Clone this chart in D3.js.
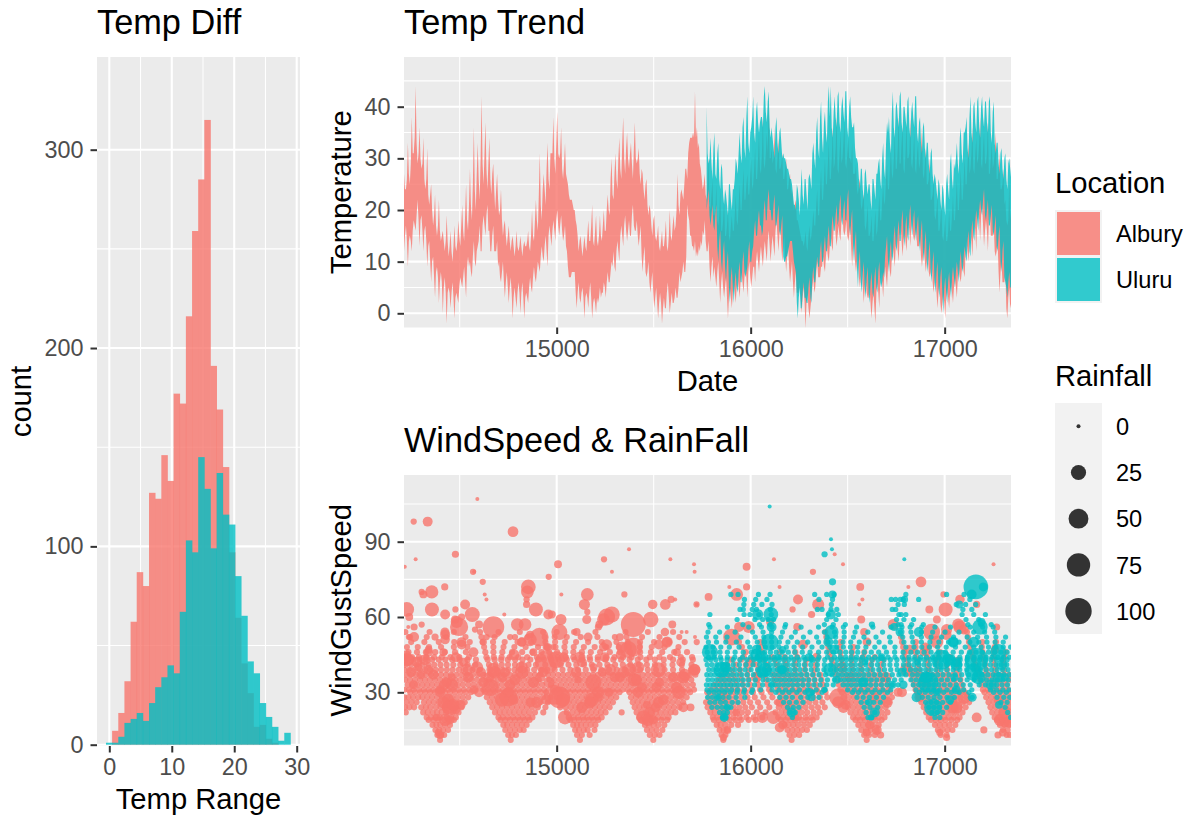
<!DOCTYPE html>
<html>
<head>
<meta charset="utf-8">
<script src="https://cdn.jsdelivr.net/npm/d3@7"></script>
<style>
  html, body { margin: 0; padding: 0; background: #fff; }
  text { font-family: "Liberation Sans", Arial, sans-serif; }
</style>
</head>
<body>
<div id="container"></div>
<script>
"use strict";

// histogram: left edge of each bin, counts per location
const binEdges = [-0.53,0.45,1.44,2.42,3.41,4.39,5.37,6.36,7.34,8.33,9.31,10.29,11.28,12.26,13.25,14.23,15.21,16.2,17.18,18.17,19.15,20.13,21.12,22.1,23.09,24.07,25.05,26.04,27.02,28.01];
const binWidth = 0.983;
const alburyCounts = [0,7,16,32,62,87,80,127,124,146,133,177,172,216,259,285,315,191,169,140,97,64,41,26,9,10,3,1,0,0];
const uluruCounts = [1,1,4,11,13,16,12,21,29,34,40,36,67,103,97,145,129,99,137,116,111,85,65,42,36,21,14,9,2,6];

// temperature ribbon, one value per listed date
const ribbonDates = [
14213,14218,14223,14228,14233,14238,14243,14248,14253,14258,14263,14268,14273,14278,14283,14288,14293,14298,14303,14308,14313,14318,14323,14328,14333,14338,14343,14348,14353,14358,14363,14368,14373,14378,14383,14388,14393,14398,14403,14408,
14413,14418,14423,14428,14433,14438,14443,14448,14453,14458,14463,14468,14473,14478,14483,14488,14493,14498,14503,14508,14513,14518,14523,14528,14533,14538,14543,14548,14553,14558,14563,14568,14573,14578,14583,14588,14593,14598,14603,14608,
14613,14618,14623,14628,14633,14638,14643,14648,14653,14658,14663,14668,14673,14678,14683,14688,14693,14698,14703,14708,14713,14718,14723,14728,14733,14738,14743,14748,14753,14758,14763,14768,14773,14778,14783,14788,14793,14798,14803,14808,
14813,14818,14823,14828,14833,14838,14843,14848,14853,14858,14863,14868,14873,14878,14883,14888,14893,14898,14903,14908,14913,14918,14923,14928,14933,14938,14943,14948,14953,14958,14963,14968,14973,14978,14983,14988,14993,14998,15003,15008,
15013,15018,15023,15028,15033,15038,15043,15048,15053,15058,15063,15068,15073,15078,15083,15088,15093,15098,15103,15108,15113,15118,15123,15128,15133,15138,15143,15148,15153,15158,15163,15168,15173,15178,15183,15188,15193,15198,15203,15208,
15213,15218,15223,15228,15233,15238,15243,15248,15253,15258,15263,15268,15273,15278,15283,15288,15293,15298,15303,15308,15313,15318,15323,15328,15333,15338,15343,15348,15353,15358,15363,15368,15373,15378,15383,15388,15393,15398,15403,15408,
15413,15418,15423,15428,15433,15438,15443,15448,15453,15458,15463,15468,15473,15478,15483,15488,15493,15498,15503,15508,15513,15518,15523,15528,15533,15538,15543,15548,15553,15558,15563,15568,15573,15578,15583,15588,15593,15598,15603,15608,
15613,15618,15623,15628,15633,15638,15643,15648,15653,15658,15663,15668,15673,15678,15683,15688,15693,15698,15703,15708,15713,15718,15723,15728,15733,15738,15743,15748,15753,15758,15763,15768,15773,15778,15783,15788,15793,15798,15803,15808,
15813,15818,15823,15828,15833,15838,15843,15848,15853,15858,15863,15868,15873,15878,15883,15888,15893,15898,15903,15908,15913,15918,15923,15928,15933,15938,15943,15948,15953,15958,15963,15968,15973,15978,15983,15988,15993,15998,16003,16008,
16013,16018,16023,16028,16033,16038,16043,16048,16053,16058,16063,16068,16073,16078,16083,16088,16093,16098,16103,16108,16113,16118,16123,16128,16133,16138,16143,16148,16153,16158,16163,16168,16173,16178,16183,16188,16193,16198,16203,16208,
16213,16218,16223,16228,16233,16238,16243,16248,16253,16258,16263,16268,16273,16278,16283,16288,16293,16298,16303,16308,16313,16318,16323,16328,16333,16338,16343,16348,16353,16358,16363,16368,16373,16378,16383,16388,16393,16398,16403,16408,
16413,16418,16423,16428,16433,16438,16443,16448,16453,16458,16463,16468,16473,16478,16483,16488,16493,16498,16503,16508,16513,16518,16523,16528,16533,16538,16543,16548,16553,16558,16563,16568,16573,16578,16583,16588,16593,16598,16603,16608,
16613,16618,16623,16628,16633,16638,16643,16648,16653,16658,16663,16668,16673,16678,16683,16688,16693,16698,16703,16708,16713,16718,16723,16728,16733,16738,16743,16748,16753,16758,16763,16768,16773,16778,16783,16788,16793,16798,16803,16808,
16813,16818,16823,16828,16833,16838,16843,16848,16853,16858,16863,16868,16873,16878,16883,16888,16893,16898,16903,16908,16913,16918,16923,16928,16933,16938,16943,16948,16953,16958,16963,16968,16973,16978,16983,16988,16993,16998,17003,17008,
17013,17018,17023,17028,17033,17038,17043,17048,17053,17058,17063,17068,17073,17078,17083,17088,17093,17098,17103,17108,17113,17118,17123,17128,17133,17138,17143,17148,17153,17158,17163,17168,17173,17178,17183,17188,17193,17198,17203,17208,
17213,17218,17223,17228,17233,17238,17243,17248,17253,17258,17263,17268,17273,17278,17283,17288,17293,17298,17303,17308,17313,17318,17323,17328,17333,17338,17343];
const alburyHigh = [
27,24,24,26,33,27,25,29,38,31,31,34,44,33,29,31,36,30,28,29,34,26,24,26,32,23,21,23,25,20,17,19,23,17,15,17,22,16,14,15,
16,14,12,14,19,14,11,13,16,12,10,13,17,13,12,14,18,15,13,17,21,16,14,19,25,18,16,21,28,21,18,25,36,24,20,27,33,26,22,30,
42,29,25,31,37,28,24,29,34,26,23,27,29,24,20,24,27,22,19,20,24,18,15,17,18,15,13,15,17,14,12,14,15,13,11,13,16,13,12,13,
15,13,11,13,14,13,13,14,16,13,12,15,20,15,14,18,22,18,16,23,31,21,18,24,27,24,21,28,33,26,24,31,31,31,38,30,27,33,39,31,
30,31,36,28,26,29,33,27,26,25,23,22,22,22,21,20,20,18,17,15,12,14,15,13,11,13,15,13,12,15,18,14,14,17,21,14,13,16,19,14,
13,15,19,15,14,17,20,16,16,20,23,20,19,26,30,23,22,27,31,26,24,30,34,28,26,33,38,30,27,32,35,30,28,31,33,29,26,32,37,30,
29,30,32,27,25,28,27,24,22,25,26,21,19,21,20,17,15,18,19,15,14,15,17,13,12,14,16,13,13,15,18,13,12,15,20,15,14,17,19,16,
17,20,27,21,19,23,24,23,22,25,28,28,26,31,33,34,34,34,35,34,43,34,36,32,33,29,28,26,24,25,27,23,22,25,30,21,20,23,26,19,
19,20,25,18,17,19,24,16,16,18,22,15,15,17,20,15,14,17,19,16,16,19,23,18,17,21,25,20,20,24,28,22,22,25,27,23,23,27,30,24,
25,28,32,26,26,30,35,28,27,31,38,29,28,31,35,31,42,30,30,32,29,30,36,28,27,30,34,28,28,29,31,26,26,28,30,24,24,26,27,23,
24,22,20,21,22,18,18,17,16,15,14,14,13,14,16,13,12,15,17,14,15,17,20,17,17,21,24,19,19,24,28,22,22,26,30,25,25,29,33,26,
26,30,36,28,29,32,38,28,27,31,35,29,30,33,37,29,28,31,34,30,30,29,33,27,27,27,29,24,23,25,26,21,20,22,23,17,16,18,21,15,
15,16,19,14,14,17,20,15,16,19,23,18,18,22,25,21,22,26,29,24,24,28,32,27,26,30,35,28,28,32,38,29,29,33,36,28,27,31,37,30,
30,31,38,29,28,31,35,28,27,31,33,28,29,32,36,27,26,29,32,25,25,26,30,22,22,23,26,19,18,20,23,16,16,18,21,15,14,16,19,14,
14,16,20,16,16,19,23,18,18,22,26,20,20,24,28,22,22,26,30,25,25,29,33,27,28,31,36,28,27,31,34,29,30,33,38,29,28,32,35,29,
29,31,37,27,27,30,33,28,29,31,35,26,26,28,31,24,24,25,28,21,22,18,17,18,26,18,20];
const alburyLow = [
12,15,17,14,9,14,15,14,12,16,18,17,16,19,22,18,13,18,19,16,12,16,17,14,9,13,14,10,6,10,11,7,3,8,9,7,2,6,8,6,
0,5,7,4,-2,4,5,4,1,4,6,3,-1,3,4,3,2,5,7,6,5,7,9,6,3,9,11,9,10,8,7,11,14,10,9,12,13,14,17,12,
12,17,19,17,15,19,21,16,16,12,12,15,17,12,12,12,14,9,10,7,6,8,10,6,3,6,8,5,2,5,7,4,-1,3,5,3,1,4,6,4,
0,4,6,3,-1,3,4,3,2,5,7,5,4,7,9,7,6,8,10,9,8,11,13,11,10,13,15,12,9,15,17,15,13,16,18,16,14,18,20,17,
15,17,19,16,14,15,17,13,12,9,7,7,7,8,8,8,8,4,1,4,6,3,2,4,5,3,-1,3,4,3,1,4,6,3,-1,2,3,2,0,3,
2,3,5,3,4,4,6,5,3,6,8,6,6,8,10,9,12,9,8,12,14,12,10,15,17,15,13,17,19,16,14,16,18,15,15,19,21,17,16,16,
18,15,13,15,17,11,8,11,13,8,7,8,10,6,4,6,8,4,1,3,5,2,-1,2,4,2,-2,1,3,1,1,4,6,3,0,2,4,2,2,3,
5,3,3,5,8,6,7,8,10,8,8,11,21,19,18,15,15,13,13,12,14,11,12,11,13,12,14,13,16,15,18,14,12,12,14,9,6,9,11,7,
9,7,5,8,10,6,2,6,8,5,3,5,7,3,-1,3,5,3,1,4,6,4,2,5,7,5,3,6,8,6,4,7,9,7,3,8,10,7,5,7,
9,9,6,10,12,10,8,11,13,11,9,12,14,12,10,14,16,13,10,13,15,13,11,16,18,15,12,15,17,13,10,13,15,11,8,11,13,9,6,8,
10,6,3,6,8,4,4,4,6,3,0,3,5,2,-3,2,4,1,-1,1,3,5,7,4,5,8,10,7,7,7,9,9,11,9,8,11,13,11,10,13,
15,13,12,17,19,15,13,15,17,15,14,18,20,16,15,16,18,15,14,15,17,13,9,13,15,10,8,10,12,7,5,7,9,5,2,5,7,4,3,3,
5,2,-1,2,4,1,-2,4,6,4,1,6,8,6,3,7,9,7,5,9,11,8,7,11,13,11,9,13,15,12,10,15,17,14,11,14,16,14,12,15,
18,16,13,17,19,15,14,15,17,13,13,13,15,11,9,11,13,10,8,10,12,8,7,8,10,6,4,6,8,4,1,4,6,2,0,2,4,2,-1,3,
5,3,1,4,6,4,2,5,7,5,3,7,9,7,6,8,10,8,7,12,14,12,10,14,16,14,11,16,18,16,12,18,20,18,14,19,21,17,13,16,
18,16,12,18,20,15,15,15,17,12,11,12,14,8,4,8,10,6,6,6,8,1,-1,3,5,1,2];
const uluruStart = 15773;
const uluruHigh = [
40,31,29,30,34,29,26,32,35,27,26,31,33,26,24,29,28,23,21,24,23,21,19,25,25,22,20,24,24,26,30,29,27,31,35,31,29,36,38,32,
30,38,42,33,31,35,36,38,42,35,33,39,41,37,35,37,38,38,36,42,44,39,37,41,43,36,34,36,34,32,30,36,38,33,31,35,36,33,30,31,
30,30,29,28,28,27,26,26,25,23,21,21,20,25,24,22,19,24,28,23,21,26,26,23,20,26,27,26,24,31,33,30,28,35,38,32,30,38,41,34,
31,37,39,35,33,41,44,38,44,36,34,39,42,38,36,42,43,37,35,40,42,39,37,43,43,36,34,40,42,38,36,36,37,32,30,30,29,26,24,28,
28,24,22,27,28,25,23,25,25,22,20,26,26,24,22,27,27,29,30,26,24,30,33,28,26,33,37,35,38,33,31,39,43,36,34,40,41,38,36,42,
43,37,35,40,40,38,36,41,42,36,34,39,41,38,36,42,42,35,33,37,38,33,31,36,37,32,30,33,33,29,27,31,32,27,25,27,26,24,22,26,
25,22,20,25,24,21,19,25,27,24,22,29,31,26,24,29,28,30,33,29,27,34,36,31,29,35,35,36,38,32,30,38,42,35,33,40,41,37,35,41,
42,36,34,40,42,38,36,41,41,37,35,41,42,35,33,39,41,33,31,33,33,29,27,31,32,28,26,30,31,26,24,29,30,28,26];
const uluruLow = [
20,22,24,19,17,19,21,17,16,19,21,13,10,14,16,10,8,12,14,9,6,10,12,5,2,7,9,5,2,6,8,5,4,8,10,6,6,10,12,8,
7,8,9,12,14,10,10,12,13,16,18,15,15,18,20,17,17,15,16,20,22,18,18,22,24,20,20,18,18,21,23,17,17,19,21,16,15,17,19,11,
10,10,11,11,12,13,14,14,14,12,10,9,8,2,-1,3,5,1,1,4,6,3,3,2,2,5,7,3,2,7,9,6,6,9,11,9,9,12,14,10,
10,13,15,12,12,15,17,13,13,17,19,16,16,19,21,17,18,21,23,18,17,20,22,18,18,22,24,17,15,18,20,13,10,14,16,9,5,10,12,6,
4,8,10,5,3,7,9,4,2,6,8,4,3,7,9,5,4,8,10,6,5,6,8,7,11,13,15,10,8,12,14,10,11,15,17,13,12,16,18,14,
14,18,20,15,13,17,19,15,14,19,21,17,15,18,20,16,14,17,19,14,12,16,18,12,10,14,16,10,8,12,14,8,6,10,12,6,4,8,10,5,
3,7,9,4,0,5,7,4,2,6,8,5,3,7,9,7,5,8,10,8,6,10,12,9,8,11,13,11,10,14,16,12,11,16,18,15,14,18,20,18,
16,20,22,20,19,22,24,19,18,20,22,17,17,19,21,16,15,17,19,13,12,15,17,10,8,12,14,7,6,5,3,6,8,5,5];

// wind gust rows of small points: gust value, then the dates seen on that row
const alburyRowGust = [11,13,15,17,19,20,22,24,26,28,30,31,33,35,37,39,41,43,44,46,48,50,52,54];
const alburyRowDates = [
[14399,14763,15120,15498,15859,16211,16598],
[14385,14405,14420,14750,14770,14790,15105,15130,15170,15480,15505,15530,15850,15870,16200,16225,16250,16585,16610,16640,16980,17010,17320,17335],
[14375,14395,14415,14440,14735,14760,14785,14810,14830,15095,15115,15140,15160,15195,15465,15490,15515,15545,15840,15860,15880,16190,16215,16240,16265,16290,16570,16595,16620,16650,16965,16990,17015,17040,17300,17325],
[14360,14380,14400,14425,14450,14725,14745,14770,14795,14820,14845,15085,15105,15125,15150,15175,15200,15455,15475,15500,15525,15555,15825,15845,15870,15900,15935,16175,16195,16220,16245,16275,16305,16555,16580,16605,16630,16660,16950,16975,17000,17025,17055,17285,17310,17335],
[14340,14365,14390,14420,14445,14470,14710,14735,14760,14785,14810,14835,14860,15070,15090,15115,15140,15165,15190,15215,15435,15460,15485,15510,15540,15570,15810,15835,15860,15890,15920,15950,15990,16025,16155,16180,16205,16230,16260,16290,16320,16540,16565,16590,16615,16645,16675,16930,16955,16980,17005,17035,17065,17270,17295,17320,17340],
[14330,14352,14375,14398,14432,14456,14480,14700,14722,14748,14775,14801,14826,14852,14875,15062,15088,15111,15136,15158,15183,15209,15232,15425,15449,15473,15497,15522,15549,15577,15805,15828,15855,15881,15912,15943,15978,16016,16060,16142,16168,16192,16221,16249,16283,16312,16340,16528,16552,16579,16606,16634,16661,16690,16918,16941,16969,16996,17021,17048,17077,17258,17283,17307,17331],
[14222,14312,14335,14361,14384,14407,14431,14466,14494,14682,14706,14731,14757,14782,14808,14833,14859,14888,14931,15052,15081,15107,15129,15154,15179,15204,15228,15252,15335,15412,15438,15462,15486,15511,15535,15562,15588,15612,15792,15815,15842,15867,15893,15924,15955,15986,16031,16077,16128,16158,16183,16207,16236,16262,16291,16325,16356,16514,16541,16566,16592,16621,16648,16676,16705,16905,16932,16958,16984,17010,17036,17062,17092,17245,17272,17298,17322],
[14218,14241,14265,14302,14326,14349,14377,14402,14426,14452,14483,14510,14668,14693,14719,14744,14770,14796,14822,14847,14873,14903,14942,15018,15046,15072,15097,15122,15147,15172,15197,15222,15247,15273,15402,15427,15451,15476,15500,15526,15553,15579,15605,15633,15778,15803,15829,15856,15883,15911,15941,15972,16006,16049,16096,16145,16172,16198,16225,16254,16283,16315,16347,16382,16502,16529,16556,16583,16610,16638,16667,16696,16892,16919,16945,16972,16998,17024,17050,17078,17108,17236,17262,17288,17314,17338],
[14226,14252,14278,14316,14341,14366,14392,14418,14444,14471,14499,14526,14655,14680,14706,14731,14757,14783,14809,14835,14861,14887,14916,14955,15010,15036,15062,15087,15113,15138,15163,15188,15213,15238,15264,15290,15392,15417,15442,15467,15491,15516,15543,15570,15597,15624,15652,15770,15794,15820,15847,15874,15901,15930,15962,15997,16038,16085,16135,16163,16189,16216,16244,16272,16301,16334,16370,16490,16517,16544,16571,16598,16625,16654,16683,16712,16880,16907,16934,16961,16987,17013,17039,17066,17095,17126,17226,17252,17278,17304,17330],
[14214,14236,14260,14286,14308,14333,14358,14384,14410,14436,14462,14489,14516,14544,14640,14666,14692,14718,14744,14770,14796,14822,14848,14874,14900,14929,14968,15001,15027,15053,15079,15104,15130,15155,15180,15205,15230,15256,15281,15307,15383,15408,15433,15458,15482,15507,15534,15561,15588,15615,15642,15670,15784,15811,15838,15865,15892,15920,15951,15984,16021,16066,16112,16154,16180,16207,16235,16263,16292,16323,16357,16395,16478,16505,16532,16559,16586,16613,16641,16670,16699,16728,16868,16895,16922,16949,16976,17002,17028,17055,17083,17113,17214,17240,17266,17292,17318,17342],
[14245,14270,14297,14322,14347,14372,14398,14424,14450,14476,14503,14530,14558,14630,14655,14681,14707,14733,14759,14785,14811,14837,14863,14889,14918,14945,14990,15016,15042,15068,15094,15120,15146,15171,15196,15221,15246,15272,15298,15324,15375,15400,15424,15449,15474,15499,15525,15552,15579,15606,15633,15660,15688,15776,15802,15829,15856,15883,15911,15942,15975,16012,16056,16104,16146,16172,16199,16227,16255,16285,16316,16349,16386,16470,16497,16524,16551,16578,16605,16632,16661,16690,16720,16858,16885,16912,16939,16966,16992,17018,17045,17073,17103,17205,17231,17257,17283,17309,17335],
[14216,14238,14262,14290,14315,14340,14365,14390,14416,14442,14468,14495,14522,14550,14578,14622,14647,14673,14699,14725,14751,14777,14803,14829,14855,14881,14907,14935,14980,15006,15032,15058,15084,15110,15136,15162,15187,15212,15237,15263,15288,15314,15340,15366,15391,15416,15441,15466,15491,15517,15544,15571,15598,15625,15652,15680,15708,15794,15821,15848,15875,15903,15933,15967,16004,16048,16095,16138,16164,16191,16219,16247,16277,16308,16341,16378,16462,16489,16516,16543,16570,16597,16624,16652,16681,16711,16850,16877,16904,16931,16958,16984,17010,17037,17065,17095,17197,17223,17249,17275,17301,17327],
[14232,14256,14282,14308,14333,14358,14384,14410,14436,14462,14489,14516,14544,14572,14600,14640,14665,14691,14717,14743,14769,14795,14821,14847,14873,14899,14926,14970,14996,15022,15048,15074,15100,15126,15152,15178,15203,15228,15254,15279,15305,15331,15357,15382,15407,15432,15458,15484,15510,15537,15564,15591,15618,15645,15673,15702,15815,15842,15869,15897,15927,15960,15997,16040,16087,16130,16157,16184,16211,16240,16270,16302,16336,16372,16455,16482,16509,16536,16563,16590,16618,16646,16675,16705,16842,16869,16896,16923,16950,16977,17003,17030,17058,17088,17190,17216,17242,17268,17294,17320],
[14220,14244,14270,14296,14321,14346,14372,14398,14424,14450,14477,14504,14532,14560,14588,14616,14648,14674,14700,14726,14752,14778,14804,14830,14856,14882,14908,14962,14988,15014,15040,15066,15092,15118,15144,15170,15195,15220,15246,15271,15297,15323,15349,15374,15399,15424,15450,15476,15502,15529,15556,15583,15610,15637,15665,15694,15835,15862,15890,15920,15953,15990,16033,16080,16123,16150,16177,16204,16233,16263,16295,16329,16365,16448,16475,16502,16529,16556,16583,16611,16639,16668,16698,16835,16862,16889,16916,16943,16970,16996,17023,17051,17081,17183,17209,17235,17261,17287,17313,17339],
[14226,14250,14276,14302,14327,14352,14378,14404,14430,14456,14483,14510,14538,14566,14594,14622,14654,14680,14706,14732,14758,14784,14810,14836,14862,14888,14914,14955,14981,15007,15033,15059,15085,15111,15137,15163,15188,15213,15239,15264,15290,15316,15342,15367,15392,15417,15443,15469,15495,15522,15549,15576,15603,15630,15658,15687,15715,15850,15880,15910,15945,15983,16026,16073,16116,16143,16170,16197,16226,16256,16288,16322,16358,16441,16468,16495,16522,16549,16576,16604,16632,16661,16691,16827,16854,16881,16908,16935,16962,16988,17015,17043,17073,17175,17201,17227,17253,17279,17305,17331],
[14215,14240,14268,14295,14322,14348,14376,14404,14434,14464,14496,14530,14566,14604,14660,14690,14720,14750,14782,14814,14848,14884,14922,14951,14990,15030,15070,15110,15150,15190,15230,15270,15310,15350,15390,15430,15470,15512,15556,15600,15646,15692,15716,15868,15905,15945,15990,16040,16090,16140,16184,16230,16278,16330,16435,16480,16525,16570,16618,16668,16820,16868,16916,16964,17012,17062,17168,17214,17260,17306],
[14221,14249,14279,14309,14339,14369,14401,14433,14467,14503,14541,14581,14651,14685,14717,14749,14785,14819,14855,14893,14941,14981,15021,15061,15101,15141,15181,15221,15261,15301,15341,15381,15423,15465,15507,15551,15597,15645,15695,15880,15925,15975,16030,16085,16135,16181,16229,16281,16335,16428,16475,16522,16569,16619,16671,16812,16862,16912,16962,17012,17064,17160,17208,17256,17304],
[14231,14262,14294,14326,14358,14392,14426,14462,14500,14540,14584,14644,14680,14714,14748,14786,14824,14864,14906,14934,14972,15012,15052,15092,15132,15172,15212,15252,15292,15332,15376,15418,15462,15506,15552,15600,15650,15702,15900,15950,16005,16065,16125,16178,16232,16288,16420,16470,16520,16572,16626,16682,16805,16858,16910,16962,17016,17070,17152,17202,17252,17302],
[14219,14254,14290,14328,14368,14408,14452,14498,14548,14638,14676,14716,14758,14802,14848,14898,14928,14966,15006,15046,15086,15128,15170,15212,15254,15298,15342,15386,15432,15480,15530,15584,15640,15698,15965,16035,16110,16175,16240,16412,16466,16522,16580,16640,16798,16854,16910,16968,17028,17145,17198,17252,17308],
[14236,14280,14326,14374,14424,14476,14532,14632,14674,14720,14770,14822,14876,14922,14962,15002,15044,15086,15130,15176,15224,15274,15326,15378,15430,15486,15544,15606,15672,15975,16060,16150,16230,16405,16462,16522,16586,16792,16850,16910,16974,17138,17195,17255,17315],
[14228,14284,14342,14404,14470,14540,14626,14674,14726,14782,14840,14904,14948,14994,15040,15088,15140,15196,15256,15320,15372,15428,15490,15556,15628,15955,16055,16400,16460,16530,16786,16850,16918,17130,17192,17258],
[14250,14318,14392,14472,14552,14618,14672,14732,14798,14868,14942,14992,15044,15100,15162,15232,15308,15366,15430,15502,15580,15660,15940,16050,16395,16465,16780,16852,17125,17195,17265],
[14238,14330,14432,14530,14612,14680,14760,14850,14938,14990,15052,15124,15210,15300,15360,15440,15530,15632,16390,16775,17120],
[14220,14345,14470,14605,14700,14810,14930,15000,15090,15200,15355,15470,15600,16385,17115]
];
const uluruRowGust = [20,22,24,26,28,30,31,33,35,37,39,41,43,44,46,48,50,52,54,56,57,59,61,63,65,67,69];
const uluruRowDates = [
[15855,15870,16215,16605,16625,16950,16975,17340],
[15840,15862,15880,16205,16230,16595,16640,16935,16962,16990,17325],
[15800,15828,15852,15875,15898,16190,16220,16248,16585,16615,16655,16918,16945,16972,17010,17312],
[15790,15815,15845,15870,15905,15935,16170,16200,16235,16270,16570,16600,16635,16668,16902,16930,16958,16990,17030,17290,17322],
[15778,15802,15830,15858,15888,15925,15970,16150,16182,16215,16258,16295,16352,16548,16580,16612,16648,16685,16885,16915,16945,16975,17012,17050,17142,17270,17305,17335],
[15785,15812,15838,15866,15895,15930,15965,16005,16130,16164,16198,16238,16280,16320,16368,16525,16556,16590,16626,16665,16705,16870,16900,16930,16960,16995,17035,17075,17125,17252,17285,17318],
[15775,15798,15824,15850,15876,15902,15932,15968,16010,16052,16110,16146,16180,16215,16252,16294,16338,16384,16500,16534,16568,16604,16642,16682,16722,16852,16884,16914,16944,16975,17012,17052,17098,17140,17236,17268,17300,17332],
[15772,15790,15808,15826,15844,15862,15880,15898,15916,15936,15958,15985,16020,16062,16102,16124,16146,16170,16194,16218,16242,16268,16296,16326,16358,16392,16426,16476,16498,16520,16544,16568,16592,16618,16646,16674,16702,16730,16760,16838,16866,16892,16918,16944,16970,16998,17028,17060,17096,17132,17178,17210,17240,17268,17296,17324],
[15780,15802,15824,15846,15868,15890,15912,15936,15962,15990,16024,16064,16090,16112,16134,16156,16178,16200,16222,16246,16272,16300,16330,16362,16396,16432,16462,16484,16506,16528,16550,16572,16596,16622,16650,16680,16710,16742,16776,16826,16852,16878,16904,16930,16956,16984,17014,17046,17080,17116,17152,17186,17216,17244,17272,17300,17328],
[15774,15794,15816,15838,15860,15882,15904,15928,15954,15982,16014,16050,16080,16102,16124,16146,16168,16190,16212,16236,16262,16290,16320,16352,16386,16420,16450,16472,16494,16516,16538,16560,16584,16610,16638,16668,16698,16730,16764,16800,16834,16860,16886,16912,16938,16964,16992,17022,17054,17088,17124,17160,17192,17222,17250,17278,17306,17334],
[15784,15806,15828,15850,15872,15894,15918,15944,15972,16002,16036,16070,16094,16116,16138,16160,16182,16204,16228,16254,16282,16312,16344,16378,16412,16442,16464,16486,16508,16530,16552,16576,16602,16630,16660,16690,16722,16756,16792,16824,16850,16876,16902,16928,16954,16982,17012,17044,17078,17114,17150,17184,17214,17242,17270,17298,17326],
[15776,15800,15826,15852,15880,15910,15942,15976,16012,16046,16074,16098,16122,16146,16170,16194,16220,16248,16278,16310,16344,16380,16414,16444,16468,16492,16516,16540,16566,16594,16624,16654,16686,16718,16752,16788,16816,16842,16868,16894,16922,16950,16980,17012,17044,17078,17114,17148,17178,17208,17236,17264,17292,17320],
[15770,15794,15820,15848,15878,15910,15944,15980,16016,16048,16076,16100,16124,16148,16172,16196,16222,16250,16280,16312,16346,16382,16416,16446,16470,16494,16518,16542,16568,16596,16626,16656,16688,16720,16754,16790,16818,16844,16870,16896,16924,16952,16982,17014,17046,17080,17116,17150,17180,17210,17238,17266,17294,17322],
[15782,15812,15844,15880,15918,15958,16000,16034,16066,16094,16122,16150,16178,16208,16240,16274,16312,16352,16396,16432,16462,16490,16518,16546,16576,16608,16640,16674,16708,16744,16782,16816,16846,16876,16906,16938,16970,17004,17040,17078,17118,17152,17184,17214,17244,17274,17304,17334],
[15776,15808,15842,15880,15920,15962,16004,16040,16072,16102,16132,16162,16194,16228,16266,16306,16350,16392,16428,16460,16490,16520,16552,16586,16622,16660,16700,16742,16786,16826,16860,16894,16930,16966,17004,17044,17086,17128,17162,17194,17226,17258,17290,17322],
[15770,15806,15846,15890,15940,15995,16040,16076,16110,16146,16184,16224,16268,16316,16368,16408,16444,16478,16514,16552,16594,16640,16690,16744,16800,16842,16882,16922,16964,17008,17056,17106,17150,17188,17226,17264,17302,17340],
[15782,15824,15872,15926,15985,16034,16072,16108,16148,16192,16240,16294,16350,16398,16438,16476,16516,16560,16608,16662,16720,16790,16836,16880,16924,16970,17020,17074,17130,17176,17218,17260,17302],
[15772,15820,15878,15950,16024,16068,16108,16156,16210,16272,16340,16394,16438,16482,16530,16584,16646,16716,16784,16832,16880,16930,16984,17046,17116,17170,17216,17264,17314],
[15780,15840,15920,16010,16064,16108,16164,16230,16306,16380,16432,16482,16538,16604,16680,16772,16826,16880,16938,17002,17074,17150,17206,17258],
[15790,15880,15990,16056,16110,16176,16260,16350,16420,16478,16546,16630,16724,16780,16822,16882,16950,17030,17132,17196,17250],
[15784,15960,16046,16100,16180,16380,16426,16488,16760,16776,16830,16890,17120,17186,17240],
[15930,16022,16062,16090,16118,16392,16440,16752,16790,16840,17110,17176],
[15790,15966,15996,16042,16106,16400,16452,16764,16776,16800,17090,17150,17210],
[15945,15962,16008,16030,16102,16344,16368,16414,16444,16730,16748,17094,17140],
[15965,16016,16058,16110,16416,16760,16792,17060,17108,17160],
[15968,16026,16084,16352,16422,16725,16747,16771,16787,16866,17130],
[15898,15935,16040,16100,16330,16392,16430,16800,17010,17100]
];
// rows share one small rainfall reading per location
const alburyRowRain = 0.9;
const uluruRowRain = 0.3;

// the larger points, read one by one: [date, gust, rainfall]
const alburyBig = [
[14591,107,0],[14263,98,1],[14335,98,7],[14775,94,9],[14217,80,0],[14273,83,0],[14478,85,2],[14569,78,1],[14575,78,0],[14619,74,1],[14629,69,0],[14638,67,0],
[15007,81,3],[14959,76,1],[15024,69,0],[15244,83,1],[15285,78,0],[15373,87,0],[15586,83,0],[15708,81,0],[15711,78,0],[15722,65,0],[15349,69,1],[15158,69,15],[15143,65,10],[15155,59,5],[15158,62,1],
[14356,70,17],[14313,69,3],[14304,70,1],[14423,72,2],[14357,63,20],[14227,63,23],[14240,60,3],[14528,65,7],[14425,61,7],[14565,61,24],[14478,63,1],[14510,60,2],[14854,72,23],[14849,70,15],[14845,65,2],[14845,67,1],[14893,63,20],[14730,61,0],[14957,61,7],[14975,61,3],[15022,59,10],
[14674,56,62],[14497,56,40],[14485,58,13],[14797,57,15],[14837,57,15],[15014,54,29],[14911,52,42],[14863,51,17],[14820,50,6],[15258,60,33],[15284,61,29],[15241,59,15],[15395,57,87],[15485,59,26],[15495,65,6],[15560,65,9],[15590,67,2],[15611,67,0],[15103,54,3],[15162,52,5],[15220,57,3],
[15395,48,45],[15370,47,33],[15527,49,7],[15567,50,7],[15524,39,24],[15710,39,13],[14425,53,7],[14425,51,6],[14510,49,7],[14600,57,3],[14948,42,75],[15000,43,33],[15036,44,7],[15014,28,62],[15043,20,20],[14985,29,51],[14450,24,29],[14425,19,13],[14440,27,13],
[14751,28,40],[14657,32,35],[14760,33,9],[14650,36,9],[14590,40,13],[14610,38,7],[14680,38,15],[14720,36,7],[14780,45,9],[14820,38,17],[14880,34,10],[14930,38,7],[14955,48,3],[15130,42,7],[15100,38,9],[15189,34,29],[15215,30,13],[15180,27,20],[15235,38,5],[15248,44,7],
[15330,45,7],[15345,38,13],[15400,35,17],[15420,30,9],[15300,36,7],[15270,30,5],[15440,32,7],[15480,22,9],[15447,20,20],[15470,19,13],[15510,24,7],[15550,27,9],[15600,36,7],[15630,30,17],[15640,42,5],[15660,37,13],[15690,24,3],
[14235,43,13],[14250,38,7],[14280,42,9],[14300,37,5],[14262,33,5],[14340,47,3],[14366,37,7],[14400,31,5],[14420,33,9],[14461,33,13],[14480,44,7],[14520,42,5],[14545,36,9],[14575,31,5],[14505,25,7],[14480,23,5],[14600,30,7],[14225,45,5],
[14442,24,17],[14467,25,13],[14416,26,13],[14399,30,7],[14433,34,7],[14459,36,3],[14382,20,2],[14450,19,5],[14399,13,3],[14390,14,2],[14339,39,7],[14339,46,5],[14321,43,10],[14287,40,3],[14227,43,17],[14265,52,7],[14416,46,3],[14510,50,7],[14571,46,7],[14536,39,13],[14622,34,7],[14674,39,20],[14734,38,7],[14751,30,10],[14717,27,20],[14777,27,7],[14820,40,13],[14785,35,10],[14880,46,3],[14915,36,7],[14960,34,10],[14897,26,10],[14945,27,7],[15034,27,17],[14865,26,7],[15129,24,10],[15172,26,13],[15215,28,5],[15120,44,10],[15190,40,3],[15110,35,2],[15275,39,13],[15326,36,7],[15378,39,17],[15412,35,10],[15421,40,13],[15335,48,10],[15258,49,9],[15498,19,5],[15465,25,3],[15524,26,10],[15530,34,5],[15515,32,7],[15618,32,10],[15653,36,13],[15653,24,7],[15620,46,3],[15570,50,10],
[14265,56,2],[14304,57,1],[14235,56,0],[14244,52,1],[14373,52,2],[14424,54,5],[14476,59,3],[14639,52,1],[14622,50,2],[14579,55,1],[14785,52,1],[14820,50,5],[14863,53,3],[14948,48,3],[14983,48,1],[15215,56,2],[15241,48,5],[15326,52,3],[15558,54,4],[15596,57,3],[15644,54,0],[15670,54,0],[15713,52,0],[15722,50,1],
[16451,26,13],[16478,24,10],[15860,28,7],[15925,22,3],[16165,17,5],[16230,20,3],[16150,26,5],[16200,24,5],[16615,17,5],[16650,15,7],[16598,14,3],[16670,13,2],[16804,39,17],[16820,47,7],[16890,46,3],[17061,24,13],[17040,27,7],[17165,20,7],[17285,19,13],[17310,18,7],[17275,13,2],[17300,14,3],[16975,14,2],[17010,12,2],[15860,12,2],[15880,15,3],[17079,56,17],[17010,55,10],[16960,59,3],[16510,36,7],[16470,40,9],[16700,36,9],[16760,30,5],[16900,34,9],[16850,38,5],
[15783,68,3],[15721,65,1],[15979,80,3],[16120,83,0],[15928,69,15],[15979,72,2],[15890,72,0],[16149,72,0],[16244,67,7],[16216,63,1],[16321,78,1],[16433,85,0],[16476,81,0],[16348,65,13],[16314,61,2],[16565,72,3],[16576,67,0],[16560,65,0],[16878,74,9],[16813,72,0],[16994,69,1],[17252,81,0],[16921,63,3],[17005,63,20],[17079,67,6],[17165,65,2],[16933,54,33],[16900,48,5],[17268,56,2],[17202,15,2],
[15902,52,33],[15940,56,7],[15713,39,9],[16452,28,40],[16490,25,7],[16060,20,10],[16117,20,17],[16150,16,7],[16735,57,10],[16600,50,5],[16585,54,3],[16570,59,3],[16240,56,3],[16270,49,7],[16340,44,5],[16000,42,7],[16030,36,9],[16100,58,3],[15990,56,13],
[16640,28,5],[16705,26,9],[16780,30,7],[16870,28,7],[16960,50,15],[17008,53,9],[17070,57,13],[17098,55,7],[17260,47,3],[17310,22,17],[17330,18,7],[17280,27,9],[17100,28,17],[17040,24,13]
];
const uluruBig = [
[16098,104,0],[16414,91,0],[16419,87,0],[16381,85,1],[16792,83,0],[16422,74,2],[17161,72,85],[17199,72,5],[17139,69,7],[16422,69,3],[16793,67,2],[17075,65,3],
[16036,61,10],[16104,61,23],[16414,61,7],[15790,46,29],[15850,39,29],[15870,40,9],[16099,50,35],[16108,56,7],[16417,54,20],[16400,50,7],[16430,47,7],[17182,56,26],[17164,43,75],[17150,50,9],[17175,36,20],[16984,43,51],[17020,43,13],[17276,46,29],[17295,41,9],[16915,34,55],[16941,24,40],[16905,36,13],[16960,30,3],[17142,28,5],[17240,33,9],[17280,25,3],
[16867,54,7],[16855,28,7],[16580,34,7],[16640,22,7],[15864,20,5],[16211,22,7],[16030,45,13],[16060,38,13],[16165,39,5],[16165,47,2],[16110,33,1],[16300,44,3],[16380,31,1],[16314,28,3],[16320,43,1],[16740,56,3],[16770,54,5],[16625,57,1],[16860,42,1],[16780,38,5],[17045,50,7],[17060,42,7],[17060,31,5],[16140,44,1],[15830,28,3],[15880,24,2],[16590,42,1],[16610,26,2],[16620,20,1],[16730,33,3],[17190,58,3],[17050,36,3],[17310,36,3],
[16056,44,17],[16074,39,20],[16159,39,5],[16305,30,4],[16409,39,17],[16443,35,3],[17044,50,10],[17061,41,13],[17147,38,33],[17027,27,5],[17276,36,10],[16787,33,4],[16675,44,3],[16031,47,7]
];

// legend
const locationNames = ["Albury", "Uluru"];
const locationColors = ["#F8766D", "#00BFC4"];
const rainfallLevels = [0, 25, 50, 75, 100];

// axis ticks and the grid lines between them
const histXTicks = [0, 10, 20, 30];
const histXMinor = [5, 15, 25];
const histYTicks = [0, 100, 200, 300];
const histYMinor = [50, 150, 250];
const dateTicks = [15000, 16000, 17000];
const dateMinor = [14500, 15500, 16500];
const tempTicks = [0, 10, 20, 30, 40];
const tempMinor = [5, 15, 25, 35, 45];
const gustTicks = [30, 60, 90];
const gustMinor = [15, 45, 75, 105];

const svg = d3.select("#container").append("svg")
    .attr("width", 1191)
    .attr("height", 817)
    .style("display", "block");

// grey panel with white grid, axes, title and axis titles
function addPanel(opts) {
    const { left, top, width, height, x, y, xTicks, xMinor, yTicks, yMinor, id } = opts;
    const g = svg.append("g").attr("transform", `translate(${left}, ${top})`);

    g.append("rect").attr("width", width).attr("height", height).attr("fill", "#EBEBEB");

    g.selectAll(".minorx").data(xMinor).join("line")
        .attr("x1", x).attr("x2", x).attr("y1", 0).attr("y2", height)
        .attr("stroke", "#fff").attr("stroke-width", 1.05);
    g.selectAll(".minory").data(yMinor).join("line")
        .attr("x1", 0).attr("x2", width).attr("y1", y).attr("y2", y)
        .attr("stroke", "#fff").attr("stroke-width", 1.05);
    g.selectAll(".majorx").data(xTicks).join("line")
        .attr("x1", x).attr("x2", x).attr("y1", 0).attr("y2", height)
        .attr("stroke", "#fff").attr("stroke-width", 2.1);
    g.selectAll(".majory").data(yTicks).join("line")
        .attr("x1", 0).attr("x2", width).attr("y1", y).attr("y2", y)
        .attr("stroke", "#fff").attr("stroke-width", 2.1);

    svg.append("clipPath").attr("id", id).append("rect").attr("width", width).attr("height", height);
    const marks = g.append("g").attr("clip-path", `url(#${id})`);

    const xAxis = g.append("g").attr("transform", `translate(0, ${height})`)
        .call(d3.axisBottom(x).tickValues(xTicks).tickSize(6.5).tickPadding(6).tickFormat(d3.format("d")));
    const yAxis = g.append("g")
        .call(d3.axisLeft(y).tickValues(yTicks).tickSize(6.5).tickPadding(7).tickFormat(d3.format("d")));
    [xAxis, yAxis].forEach((a) => {
        a.select(".domain").remove();
        a.selectAll(".tick line").attr("stroke", "#333333").attr("stroke-width", 2);
        a.selectAll(".tick text").attr("fill", "#4D4D4D").style("font-size", "23.4px")
            .style("font-family", '"Liberation Sans", Arial, sans-serif');
    });

    g.append("text").attr("x", 0).attr("y", -23).attr("fill", "#000")
        .style("font-size", "34.3px").text(opts.title);
    if (opts.xLabel) {
        g.append("text").attr("x", width / 2).attr("y", height + opts.xLabelGap)
            .attr("text-anchor", "middle").style("font-size", "29.2px").text(opts.xLabel);
    }
    g.append("text")
        .attr("transform", `translate(${opts.yLabelX}, ${height / 2}) rotate(-90)`)
        .attr("text-anchor", "middle").style("font-size", "29.2px").text(opts.yLabel);
    return marks;
}

// Temp Diff histogram
const histWidth = 203, histHeight = 689;
const histX = d3.scaleLinear().domain([0, 30]).range([12.3, 199.7]);
const histY = d3.scaleLinear().domain([0, 300]).range([687.7, 92.7]);
const histMarks = addPanel({
    id: "clip-hist", left: 97, top: 57, width: histWidth, height: histHeight,
    x: histX, y: histY, xTicks: histXTicks, xMinor: histXMinor, yTicks: histYTicks, yMinor: histYMinor,
    title: "Temp Diff", xLabel: "Temp Range", xLabelGap: 63, yLabel: "count", yLabelX: -66.4
});
[alburyCounts, uluruCounts].forEach((counts, s) => {
    histMarks.selectAll(null).data(counts).join("rect")
        .attr("x", (d, i) => histX(binEdges[i]))
        .attr("width", histX(binWidth) - histX(0) + 0.35)
        .attr("y", (d) => histY(d))
        .attr("height", (d) => histY(0) - histY(d))
        .attr("fill", locationColors[s])
        .attr("fill-opacity", 0.8);
});

// Temp Trend ribbons
const wideWidth = 607, wideHeight = 270.5;
const dateX = d3.scaleLinear().domain([14213, 17342]).range([0, wideWidth]);
const tempY = d3.scaleLinear().domain([0, 40]).range([256.3, 49.7]);
const trendMarks = addPanel({
    id: "clip-trend", left: 404, top: 57, width: wideWidth, height: wideHeight,
    x: dateX, y: tempY, xTicks: dateTicks, xMinor: dateMinor, yTicks: tempTicks, yMinor: tempMinor,
    title: "Temp Trend", xLabel: "Date", xLabelGap: 63, yLabel: "Temperature", yLabelX: -53
});
const ribbon = d3.area()
    .defined((d) => d.low != null && d.high != null)
    .x((d) => dateX(d.date)).y0((d) => tempY(d.low)).y1((d) => tempY(d.high));
const uluruDates = ribbonDates.filter((d) => d >= uluruStart);
trendMarks.append("path")
    .attr("d", ribbon(ribbonDates.map((date, i) => ({ date, low: alburyLow[i], high: alburyHigh[i] }))))
    .attr("fill", locationColors[0]).attr("fill-opacity", 0.8);
trendMarks.append("path")
    .attr("d", ribbon(uluruDates.map((date, i) => ({ date, low: uluruLow[i], high: uluruHigh[i] }))))
    .attr("fill", locationColors[1]).attr("fill-opacity", 0.8);

// WindSpeed & RainFall points
const gustY = d3.scaleLinear().domain([30, 90]).range([217.3, 66.7]);
const rainR = d3.scaleSqrt().domain([0, 100]).range([2, 13.2]);
const windMarks = addPanel({
    id: "clip-wind", left: 404, top: 475, width: wideWidth, height: wideHeight,
    x: dateX, y: gustY, xTicks: dateTicks, xMinor: dateMinor, yTicks: gustTicks, yMinor: gustMinor,
    title: "WindSpeed & RainFall", yLabel: "WindGustSpeed", yLabelX: -53
});
function flattenRows(gusts, rows, rain) {
    return rows.flatMap((dates, i) => dates.map((date) => [date, gusts[i], rain]));
}
const alburyPoints = flattenRows(alburyRowGust, alburyRowDates, alburyRowRain).concat(alburyBig);
const uluruPoints = flattenRows(uluruRowGust, uluruRowDates, uluruRowRain).concat(uluruBig);
[alburyPoints, uluruPoints].forEach((pts, s) => {
    windMarks.selectAll(null).data(pts).join("circle")
        .attr("cx", (d) => dateX(d[0]))
        .attr("cy", (d) => gustY(d[1]))
        .attr("r", (d) => rainR(d[2]))
        .attr("fill", locationColors[s])
        .attr("fill-opacity", 0.8);
});

// legends
const legend = svg.append("g").attr("transform", "translate(1055, 0)");
legend.append("text").attr("y", 193).style("font-size", "29.2px").text("Location");
legend.append("rect").attr("y", 210).attr("width", 47).attr("height", 93).attr("fill", "#F2F2F2");
locationNames.forEach((name, i) => {
    legend.append("rect").attr("x", 2).attr("y", 212 + i * 46).attr("width", 43).attr("height", 43)
        .attr("fill", locationColors[i]).attr("fill-opacity", 0.8);
    legend.append("text").attr("x", 61).attr("y", 241.5 + i * 46).style("font-size", "23.6px").text(name);
});
legend.append("text").attr("y", 386).style("font-size", "29.2px").text("Rainfall");
legend.append("rect").attr("y", 403).attr("width", 47).attr("height", 231).attr("fill", "#F2F2F2");
rainfallLevels.forEach((level, i) => {
    legend.append("circle").attr("cx", 23.5).attr("cy", 426.3 + i * 46.2).attr("r", rainR(level)).attr("fill", "#333333");
    legend.append("text").attr("x", 61).attr("y", 435 + i * 46.2).style("font-size", "23.6px").text(level);
});
</script>
</body>
</html>
